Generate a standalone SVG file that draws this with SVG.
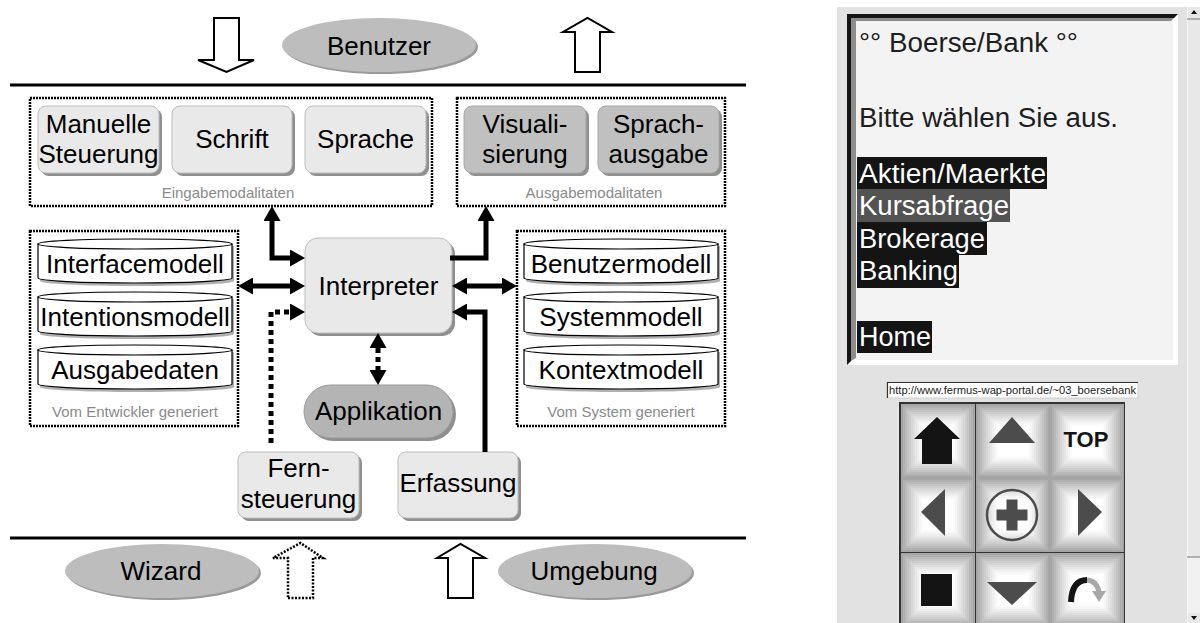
<svg xmlns="http://www.w3.org/2000/svg" width="1200" height="623" viewBox="0 0 1200 623">
<style>
.t{font-family:"Liberation Sans",Arial,sans-serif;font-size:26px;text-anchor:middle;fill:#000}
.s{font-family:"Liberation Sans",Arial,sans-serif;font-size:15px;text-anchor:middle;fill:#8a8a8a}
.lb{fill:#e9e9e9;stroke:#bdbdbd;stroke-width:1}
.db{fill:#c0c0c0;stroke:#a8a8a8;stroke-width:1}
.sh{fill:#8f8f8f}
.grp{fill:none;stroke:#000;stroke-width:2.5;stroke-dasharray:2 1}
.conn{fill:none;stroke:#000;stroke-width:5}
.dash{stroke-dasharray:5 4}
.hollow{fill:#fff;stroke:#000;stroke-width:2}
.cyl{fill:#fff;stroke:#000;stroke-width:1.2}
.cylsh{fill:#b0b0b0}
.scr{font-family:"Liberation Sans",Arial,sans-serif;font-size:27px;fill:#1e1e1e}
.mi{font-family:"Liberation Sans",Arial,sans-serif;font-size:27px;fill:#fff}
.icon{fill:#4c4c4c}
</style>
<defs>
<marker id="ah" markerUnits="userSpaceOnUse" markerWidth="16" markerHeight="17" refX="0" refY="8.5" orient="auto-start-reverse">
<path d="M0,0 L15,8.5 L0,17 Z" fill="#000"/>
</marker>
<symbol id="key" viewBox="0 0 74 74" width="74" height="74">
<rect x="0" y="0" width="74" height="74" fill="#a6a6a6"/>
<rect x="2" y="2" width="70" height="70" fill="#b0b0b0"/>
<rect x="4" y="4" width="66" height="66" fill="#bababa"/>
<rect x="6" y="6" width="62" height="62" fill="#c4c4c4"/>
<rect x="8" y="8" width="58" height="58" fill="#cdcdcd"/>
<rect x="10" y="10" width="54" height="54" fill="#d6d6d6"/>
<rect x="12" y="12" width="50" height="50" fill="#dedede"/>
<rect x="14" y="14" width="46" height="46" fill="#e6e6e6"/>
<rect x="16" y="16" width="42" height="42" fill="#eeeeee"/>
<rect x="18" y="18" width="38" height="38" fill="#f5f5f5"/>
<rect x="20" y="20" width="34" height="34" fill="#fbfbfb"/>
<rect x="22" y="22" width="30" height="30" fill="#fff"/>
</symbol>
</defs>
<rect width="1200" height="623" fill="#fff"/>

<!-- boundary lines -->
<line x1="10" y1="85" x2="746" y2="85" stroke="#000" stroke-width="3"/>
<line x1="10" y1="538" x2="746" y2="538" stroke="#000" stroke-width="3"/>

<!-- flow arrows -->
<polygon class="hollow" points="214,18 239,18 239,60 254,60 226.5,72 198,60 214,60"/>
<polygon class="hollow" points="575,72 600,72 600,32 612,32 587.5,18 563,32 575,32"/>
<polygon class="hollow" points="288,598 313,598 313,558 323,558 300.5,543 273,558 288,558" style="stroke-dasharray:2 1.5;stroke-width:2.5"/>
<polygon class="hollow" points="448,598 473,598 473,558 485,558 460.5,544 437,558 448,558"/>

<!-- Benutzer -->
<g id="benutzer">
<ellipse cx="381" cy="47" rx="97" ry="27" fill="#9a9a9a"/>
<ellipse cx="379" cy="45" rx="97" ry="27" fill="#bdbdbd"/>
<text class="t" x="379" y="55">Benutzer</text>
</g>

<!-- Eingabemodalitaten -->
<g id="eingabe">
<rect class="grp" x="30" y="98" width="402" height="108"/>
<text class="s" x="228" y="198">Eingabemodalitaten</text>
</g>
<g id="manuelle">
<rect class="sh" x="41" y="109" width="121" height="67" rx="8"/>
<rect class="lb" x="38" y="106" width="121" height="67" rx="8"/>
<text class="t" x="98.5" y="133">Manuelle</text>
<text class="t" x="98.5" y="163">Steuerung</text>
</g>
<g id="schrift">
<rect class="sh" x="175" y="109" width="120" height="67" rx="8"/>
<rect class="lb" x="172" y="106" width="120" height="67" rx="8"/>
<text class="t" x="232" y="148">Schrift</text>
</g>
<g id="sprache">
<rect class="sh" x="308" y="109" width="121" height="67" rx="8"/>
<rect class="lb" x="305" y="106" width="121" height="67" rx="8"/>
<text class="t" x="365.5" y="148">Sprache</text>
</g>

<!-- Ausgabemodalitaten -->
<g id="ausgabe">
<rect class="grp" x="457" y="98" width="268" height="108"/>
<text class="s" x="594" y="198">Ausgabemodalitaten</text>
</g>
<g id="visualisierung">
<rect class="sh" x="467" y="109" width="122" height="67" rx="8"/>
<rect class="db" x="464" y="106" width="122" height="67" rx="8"/>
<text class="t" x="525" y="133">Visuali-</text>
<text class="t" x="525" y="163">sierung</text>
</g>
<g id="sprachausgabe">
<rect class="sh" x="601" y="109" width="121" height="67" rx="8"/>
<rect class="db" x="598" y="106" width="121" height="67" rx="8"/>
<text class="t" x="658.5" y="133">Sprach-</text>
<text class="t" x="658.5" y="163">ausgabe</text>
</g>

<!-- Vom Entwickler generiert -->
<g id="entwickler">
<rect class="grp" x="30" y="231" width="208" height="195"/>
<text class="s" x="135" y="417">Vom Entwickler generiert</text>
</g>
<g id="interfacemodell">
<path class="cylsh" d="M40,246 V281 A97,5 0 0 0 234,281 V246 Z"/>
<path class="cyl" d="M38,244 V278 A97,5 0 0 0 232,278 V244 Z"/>
<ellipse class="cyl" cx="135" cy="244" rx="97" ry="5"/>
<text class="t" x="135" y="273">Interfacemodell</text>
</g>
<g id="intentionsmodell">
<path class="cylsh" d="M40,299 V334 A97,5 0 0 0 234,334 V299 Z"/>
<path class="cyl" d="M38,297 V331 A97,5 0 0 0 232,331 V297 Z"/>
<ellipse class="cyl" cx="135" cy="297" rx="97" ry="5"/>
<text class="t" x="135" y="326">Intentionsmodell</text>
</g>
<g id="ausgabedaten">
<path class="cylsh" d="M40,352 V387 A97,5 0 0 0 234,387 V352 Z"/>
<path class="cyl" d="M38,350 V384 A97,5 0 0 0 232,384 V350 Z"/>
<ellipse class="cyl" cx="135" cy="350" rx="97" ry="5"/>
<text class="t" x="135" y="379">Ausgabedaten</text>
</g>

<!-- Vom System generiert -->
<g id="system">
<rect class="grp" x="517" y="231" width="208" height="195"/>
<text class="s" x="621" y="417">Vom System generiert</text>
</g>
<g id="benutzermodell">
<path class="cylsh" d="M526,246 V281 A97,5 0 0 0 720,281 V246 Z"/>
<path class="cyl" d="M524,244 V278 A97,5 0 0 0 718,278 V244 Z"/>
<ellipse class="cyl" cx="621" cy="244" rx="97" ry="5"/>
<text class="t" x="621" y="273">Benutzermodell</text>
</g>
<g id="systemmodell">
<path class="cylsh" d="M526,299 V334 A97,5 0 0 0 720,334 V299 Z"/>
<path class="cyl" d="M524,297 V331 A97,5 0 0 0 718,331 V297 Z"/>
<ellipse class="cyl" cx="621" cy="297" rx="97" ry="5"/>
<text class="t" x="621" y="326">Systemmodell</text>
</g>
<g id="kontextmodell">
<path class="cylsh" d="M526,352 V387 A97,5 0 0 0 720,387 V352 Z"/>
<path class="cyl" d="M524,350 V384 A97,5 0 0 0 718,384 V350 Z"/>
<ellipse class="cyl" cx="621" cy="350" rx="97" ry="5"/>
<text class="t" x="621" y="379">Kontextmodell</text>
</g>

<!-- Interpreter -->
<g id="interpreter">
<rect class="sh" x="308" y="241" width="147" height="95" rx="13"/>
<rect class="lb" x="305" y="238" width="147" height="95" rx="13"/>
<text class="t" x="378.5" y="295">Interpreter</text>
</g>
<g id="applikation">
<rect class="sh" x="307" y="388" width="149" height="53" rx="26.5"/>
<rect x="304" y="385" width="149" height="53" rx="26.5" fill="#b4b4b4" stroke="#999" stroke-width="1"/>
<text class="t" x="378.5" y="420">Applikation</text>
</g>
<g id="fernsteuerung">
<rect class="sh" x="241" y="455" width="121" height="66" rx="8"/>
<rect class="lb" x="238" y="452" width="121" height="66" rx="8"/>
<text class="t" x="298.5" y="477">Fern-</text>
<text class="t" x="298.5" y="508">steuerung</text>
</g>
<g id="erfassung">
<rect class="sh" x="401" y="455" width="120" height="66" rx="8"/>
<rect class="lb" x="398" y="452" width="120" height="66" rx="8"/>
<text class="t" x="458" y="492">Erfassung</text>
</g>

<!-- Wizard / Umgebung -->
<g id="wizard">
<ellipse cx="164" cy="573" rx="97" ry="27" fill="#9a9a9a"/>
<ellipse cx="162" cy="571" rx="97" ry="27" fill="#bdbdbd"/>
<text class="t" x="161" y="580">Wizard</text>
</g>
<g id="umgebung">
<ellipse cx="597" cy="573" rx="97" ry="27" fill="#9a9a9a"/>
<ellipse cx="595" cy="571" rx="97" ry="27" fill="#bdbdbd"/>
<text class="t" x="594" y="580">Umgebung</text>
</g>

<!-- connectors -->
<g id="connectors">
<path class="conn" d="M272,221 V258 H290" marker-start="url(#ah)" marker-end="url(#ah)"/>
<path class="conn" d="M253,286 H290" marker-start="url(#ah)" marker-end="url(#ah)"/>
<path class="conn dash" d="M271,443 V312 H290" marker-end="url(#ah)"/>
<path class="conn" d="M450,258 H486 V221" marker-end="url(#ah)"/>
<path class="conn" d="M467,286 H502" marker-start="url(#ah)" marker-end="url(#ah)"/>
<path class="conn" d="M485,452 V312 H467" marker-end="url(#ah)"/>
<path class="conn dash" d="M378,348 V370" marker-start="url(#ah)" marker-end="url(#ah)"/>
</g>

<!-- Screenshot panel -->
<g id="screenshot">
<rect x="837" y="7" width="363" height="616" fill="#e2e2e2"/>
<rect x="847" y="14" width="331" height="351" fill="#fff"/>
<path d="M847,14 H1178 L1174,18 H851 V361 L847,365 Z" fill="#151515"/>
<path d="M851,18 H1174 L1171,21 H856 V358 L851,361 Z" fill="#8c8c8c"/>
<rect x="856" y="21" width="317" height="339" fill="#f3f3f3"/>
<text class="scr" x="859" y="52" textLength="219" lengthAdjust="spacingAndGlyphs">°° Boerse/Bank °°</text>
<text class="scr" x="859" y="127" textLength="259" lengthAdjust="spacingAndGlyphs">Bitte wählen Sie aus.</text>
<rect x="857" y="157" width="190" height="32" fill="#141414"/>
<rect x="857" y="189" width="153" height="33" fill="#535353"/>
<rect x="857" y="222" width="130" height="33" fill="#141414"/>
<rect x="857" y="255" width="102" height="33" fill="#141414"/>
<rect x="857" y="321" width="75" height="32" fill="#141414"/>
<text class="mi" x="859" y="183" textLength="187" lengthAdjust="spacingAndGlyphs">Aktien/Maerkte</text>
<text class="mi" x="859" y="215" textLength="150" lengthAdjust="spacingAndGlyphs">Kursabfrage</text>
<text class="mi" x="859" y="248" textLength="126" lengthAdjust="spacingAndGlyphs">Brokerage</text>
<text class="mi" x="859" y="280" textLength="99" lengthAdjust="spacingAndGlyphs">Banking</text>
<text class="mi" x="859" y="346" textLength="72" lengthAdjust="spacingAndGlyphs">Home</text>
<rect x="887" y="382" width="251" height="16" fill="#fff" stroke="#cfcfcf" stroke-width="1"/>
<path d="M887.5,398 V382.5 H1138" fill="none" stroke="#333" stroke-width="1.2"/>
<text x="889" y="394" font-family="Liberation Sans, Arial, sans-serif" font-size="10.5" fill="#222" textLength="247" lengthAdjust="spacingAndGlyphs">http://www.fermus-wap-portal.de/~03_boersebank</text>
<rect x="899" y="402" width="226" height="221" fill="#333"/>
<use href="#key" x="901" y="404"/>
<use href="#key" x="976" y="404"/>
<use href="#key" x="1050" y="404"/>
<use href="#key" x="901" y="478"/>
<use href="#key" x="976" y="478"/>
<use href="#key" x="1050" y="478"/>
<use href="#key" x="901" y="553"/>
<use href="#key" x="976" y="553"/>
<use href="#key" x="1050" y="553"/>
<polygon points="937,417 960,439 952,439 952,464 922,464 922,439 914,439" fill="#141414"/>
<polygon class="icon" points="1012,417 1035,443 989,443"/>
<text x="1086" y="447" font-family="Liberation Sans, Arial, sans-serif" font-size="22" font-weight="bold" text-anchor="middle" fill="#141414">TOP</text>
<polygon class="icon" points="921,512 945,489 945,536"/>
<circle cx="1012" cy="515" r="25" fill="none" stroke="#4c4c4c" stroke-width="2.5"/>
<rect class="icon" x="996.5" y="509.5" width="31" height="11"/>
<rect class="icon" x="1006.5" y="499.5" width="11" height="31"/>
<polygon class="icon" points="1102,512 1078,489 1078,536"/>
<rect x="921" y="574" width="31" height="32" fill="#141414"/>
<polygon class="icon" points="987,582 1037,582 1012,605"/>
<path d="M1071,602 Q1072,580 1087,580" fill="none" stroke="#141414" stroke-width="6"/>
<path d="M1087,580 Q1097,581 1099,592" fill="none" stroke="#a8a8a8" stroke-width="5"/>
<polygon points="1092,591 1106,591 1099,602" fill="#a8a8a8"/>
<rect x="1187" y="7" width="13" height="616" fill="#e8e8e8"/>
<line x1="1187.5" y1="7" x2="1187.5" y2="623" stroke="#f6f6f6" stroke-width="1"/>
<rect x="1188" y="557" width="12" height="56" fill="#f1f1f1"/>
<line x1="1187" y1="19" x2="1200" y2="19" stroke="#777" stroke-width="1"/>
<line x1="1187" y1="557" x2="1200" y2="557" stroke="#777" stroke-width="1"/>
<polygon points="1191,14 1197,14 1194,10" fill="#111"/>
<polygon points="1191,616 1197,616 1194,620" fill="#111"/>
</g>
</svg>
